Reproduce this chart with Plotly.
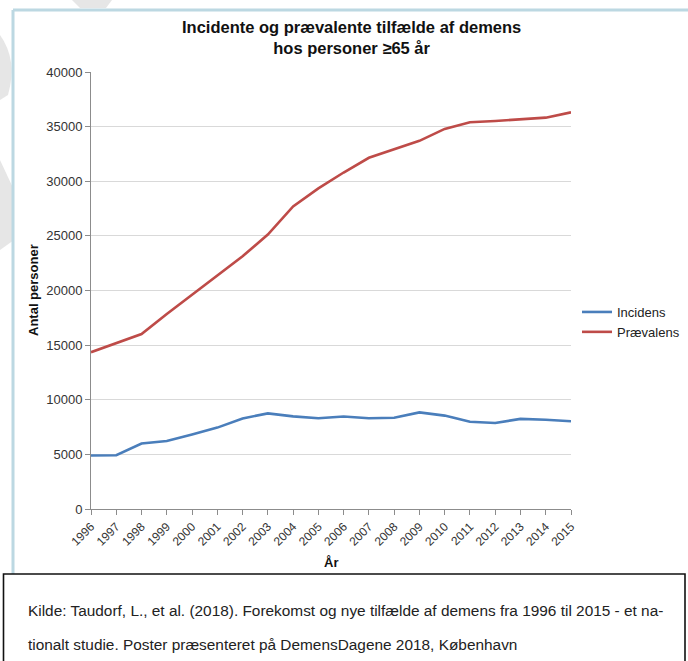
import plotly.graph_objects as go

years = list(range(1996, 2016))
incidens = [4900, 4920, 6000, 6220, 6820, 7450, 8290, 8750, 8480, 8300,
            8460, 8300, 8350, 8840, 8550, 7990, 7870, 8250, 8170, 8030]
praevalens = [14350, 15220, 16020, 17850, 19620, 21400, 23130, 25120, 27700, 29350,
              30800, 32150, 32900, 33700, 34790, 35400, 35520, 35640, 35820, 36310]
series_names = ["Incidens", "Prævalens"]
series_colors = ["#4a7ebb", "#be4b48"]
yticks = [0, 5000, 10000, 15000, 20000, 25000, 30000, 35000, 40000]

W, H = 688, 661
L, R, T, B = 91, 571, 72, 509

def px(x):
    return (x - L) / (R - L)

def py(y):
    return (B - y) / (B - T)

FONT = "Liberation Sans, Arial, sans-serif"

fig = go.Figure()
for name, vals, col in zip(series_names, [incidens, praevalens], series_colors):
    fig.add_trace(go.Scatter(x=years, y=vals, mode="lines", name=name,
                             line=dict(color=col, width=2.6)))

fig.update_layout(
    width=W, height=H,
    margin=dict(l=L, r=W - R, t=T, b=H - B, pad=0, autoexpand=False),
    paper_bgcolor="white", plot_bgcolor="white",
    font=dict(family=FONT, size=12, color="#222"),
    showlegend=True,
    legend=dict(x=px(577), y=py(297), xanchor="left", yanchor="top",
                font=dict(size=13, color="#222"), itemwidth=30,
                tracegroupgap=0, bgcolor="rgba(0,0,0,0)"),
    xaxis=dict(range=[1996, 2015], tickvals=years, ticktext=[str(y) for y in years],
               tickangle=-45, showgrid=False, showline=True, linecolor="#8c8c8c",
               linewidth=1, ticks="outside", ticklen=5, tickcolor="#8c8c8c",
               tickfont=dict(size=12, color="#333"), zeroline=False, fixedrange=True),
    yaxis=dict(range=[0, 40000], tickvals=yticks, ticktext=[str(v) for v in yticks],
               showgrid=True, gridcolor="#d9d9d9",
               gridwidth=1, showline=True, linecolor="#8c8c8c", linewidth=1,
               ticks="outside", ticklen=5, tickcolor="#8c8c8c",
               tickfont=dict(size=13, color="#333"), zeroline=False, fixedrange=True),
)

annotations = [
    dict(text="<b>Incidente og prævalente tilfælde af demens<br>hos personer ≥65 år</b>",
         x=px(351), y=py(37.5), xref="paper", yref="paper", showarrow=False,
         xanchor="center", yanchor="middle", font=dict(size=16.5, color="#111")),
    dict(text="<b>Antal personer</b>", x=px(33), y=py(290), xref="paper", yref="paper",
         showarrow=False, textangle=-90, xanchor="center", yanchor="middle",
         font=dict(size=13, color="#111")),
    dict(text="<b>År</b>", x=px(331), y=py(562), xref="paper", yref="paper",
         showarrow=False, xanchor="center", yanchor="middle",
         font=dict(size=13, color="#111")),
    dict(text="Kilde: Taudorf, L., et al. (2018). Forekomst og nye tilfælde af demens fra 1996 til 2015 - et na-",
         x=px(26), y=py(610), xref="paper", yref="paper", showarrow=False,
         xanchor="left", yanchor="middle", font=dict(size=15.4, color="#222")),
    dict(text="tionalt studie. Poster præsenteret på DemensDagene 2018, København",
         x=px(26), y=py(644), xref="paper", yref="paper", showarrow=False,
         xanchor="left", yanchor="middle", font=dict(size=15.4, color="#222")),
]
fig.update_layout(annotations=annotations)

shapes = [
    # watermark pieces
    dict(type="path", xref="paper", yref="paper",
         path=f"M {px(0)},{py(35)} Q {px(18)},{py(60)} {px(8)},{py(95)} L {px(0)},{py(100)} Z",
         fillcolor="#e6e6e6", line=dict(width=0), layer="below"),
    dict(type="path", xref="paper", yref="paper",
         path=f"M {px(0)},{py(160)} L {px(14)},{py(190)} L {px(14)},{py(240)} L {px(0)},{py(250)} Z",
         fillcolor="#e6e6e6", line=dict(width=0), layer="below"),
    dict(type="path", xref="paper", yref="paper",
         path=f"M {px(72)},{py(0)} L {px(112)},{py(0)} L {px(106)},{py(8)} L {px(80)},{py(8)} Z",
         fillcolor="#e6e6e6", line=dict(width=0), layer="below"),
    # light blue frame
    dict(type="line", xref="paper", yref="paper", x0=px(13), x1=px(690), y0=py(10), y1=py(10),
         line=dict(color="#bcd8e2", width=3)),
    dict(type="line", xref="paper", yref="paper", x0=px(13), x1=px(13), y0=py(10), y1=py(574),
         line=dict(color="#bcd8e2", width=3)),
    # source box
    dict(type="rect", xref="paper", yref="paper", x0=px(3.5), x1=px(685), y0=py(574), y1=py(668),
         line=dict(color="#111", width=1.6), fillcolor="white"),
]
fig.update_layout(shapes=shapes)

fig.write_html("out.html")
